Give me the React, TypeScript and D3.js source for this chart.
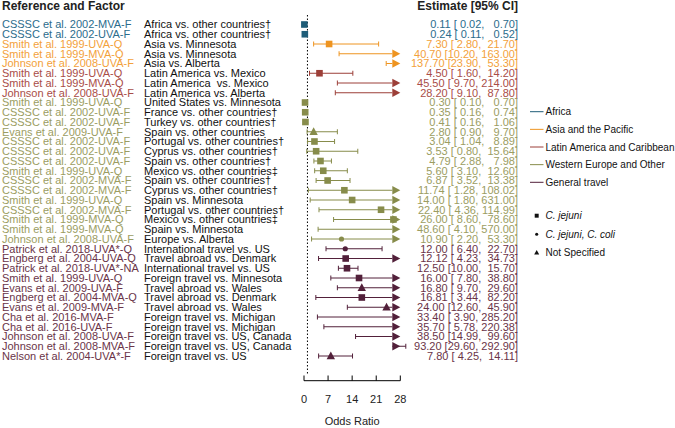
import React from "react";
import * as d3 from "d3";

const references = [
  "CSSSC et al. 2002-MVA-F", "CSSSC et al. 2002-UVA-F",
  "Smith et al. 1999-UVA-Q", "Smith et al. 1999-MVA-Q", "Johnson et al. 2008-UVA-F",
  "Smith et al. 1999-UVA-Q", "Smith et al. 1999-MVA-Q", "Johnson et al. 2008-UVA-F",
  "Smith et al. 1999-UVA-Q", "CSSSC et al. 2002-UVA-F", "CSSSC et al. 2002-UVA-F",
  "Evans et al. 2009-UVA-F", "CSSSC et al. 2002-UVA-F", "CSSSC et al. 2002-UVA-F",
  "CSSSC et al. 2002-UVA-F", "Smith et al. 1999-UVA-Q", "CSSSC et al. 2002-MVA-F",
  "CSSSC et al. 2002-MVA-F", "Smith et al. 1999-UVA-Q", "CSSSC et al. 2002-MVA-F",
  "Smith et al. 1999-MVA-Q", "Smith et al. 1999-MVA-Q", "Johnson et al. 2008-UVA-F",
  "Patrick et al. 2018-UVA*-Q", "Engberg et al. 2004-UVA-Q", "Patrick et al. 2018-UVA*-NA",
  "Smith et al. 1999-UVA-Q", "Evans et al. 2009-UVA-F", "Engberg et al. 2004-MVA-Q",
  "Evans et al. 2009-MVA-F", "Cha et al. 2016-MVA-F", "Cha et al. 2016-UVA-F",
  "Johnson et al. 2008-UVA-F", "Johnson et al. 2008-MVA-F", "Nelson et al. 2004-UVA*-F",
];

const factors = [
  "Africa vs. other countries†", "Africa vs. other countries†",
  "Asia vs. Minnesota", "Asia vs. Minnesota", "Asia vs. Alberta",
  "Latin America vs. Mexico", "Latin America  vs. Mexico", "Latin America vs. Alberta",
  "United States vs. Minnesota", "France vs. other countries†", "Turkey vs. other countries†",
  "Spain vs. other countries", "Portugal vs. other countries†", "Cyprus vs. other countries†",
  "Spain vs. other countries†", "Mexico vs. other countries‡", "Spain vs. other countries†",
  "Cyprus vs. other countries†", "Spain vs. Minnesota", "Portugal vs. other countries†",
  "Mexico vs. other countries‡", "Spain vs. Minnesota", "Europe vs. Alberta",
  "International travel vs. US", "Travel abroad vs. Denmark", "International travel vs. US",
  "Foreign travel vs. Minnesota", "Travel abroad vs. Wales", "Travel abroad vs. Denmark",
  "Travel abroad vs. Wales", "Foreign travel vs. Michigan", "Foreign travel vs. Michigan",
  "Foreign travel vs. US, Canada", "Foreign travel vs. US, Canada", "Foreign travel vs. US",
];

const groups = [
  "Africa", "Africa",
  "Asia", "Asia", "Asia",
  "Latin", "Latin", "Latin",
  "West", "West", "West", "West", "West", "West", "West", "West", "West", "West", "West", "West", "West", "West", "West",
  "Gen", "Gen", "Gen", "Gen", "Gen", "Gen", "Gen", "Gen", "Gen", "Gen", "Gen", "Gen",
];

const estimates = [
  0.11, 0.24, 7.30, 40.70, 137.70, 4.50, 45.50, 28.20, 0.30, 0.35, 0.41, 2.80, 3.04, 3.53,
  4.79, 5.60, 6.87, 11.74, 14.00, 22.40, 26.00, 48.60, 10.90, 12.00, 12.12, 12.50, 16.00,
  16.80, 16.81, 24.00, 33.40, 35.70, 38.50, 93.20, 7.80,
];
const lower = [
  0.02, 0.11, 2.80, 10.20, 23.90, 1.60, 9.70, 9.10, 0.10, 0.16, 0.16, 0.90, 1.04, 0.80,
  2.88, 3.10, 3.52, 1.28, 1.80, 4.36, 8.60, 4.10, 2.20, 6.40, 4.23, 10.00, 7.80,
  9.70, 3.44, 12.60, 3.90, 5.78, 14.99, 29.60, 4.25,
];
const upper = [
  0.70, 0.52, 21.70, 163.00, 53.30, 14.20, 214.00, 87.80, 0.70, 0.74, 1.06, 9.70, 8.89, 15.64,
  7.98, 12.60, 13.38, 108.02, 631.00, 114.99, 78.60, 570.00, 53.30, 22.70, 34.73, 15.70, 38.80,
  29.60, 82.20, 45.90, 285.20, 220.38, 99.60, 292.90, 14.11,
];
const shapes = [
  "sq", "sq", "sq", "sq", "sq", "sq", "sq", "sq", "sq", "sq", "sq", "tri", "sq", "sq",
  "sq", "sq", "sq", "sq", "sq", "sq", "sq", "sq", "circ", "circ", "sq", "sq", "sq",
  "tri", "sq", "tri", "sq", "sq", "sq", "sq", "tri",
];

const xTicks = [0, 7, 14, 21, 28];

const groupKeys = ["Africa", "Asia", "Latin", "West", "Gen"];
const groupNames = ["Africa", "Asia and the Pacific", "Latin America and Caribbean", "Western Europe and Other", "General travel"];
const markColors = ["#1f5d78", "#ee9420", "#9c3f38", "#878c4b", "#52203a"];
const textColors = ["#2b6c8c", "#f3a13a", "#a94d47", "#9b9d62", "#6a3448"];

const shapeKeys = ["sq", "circ", "tri"];
const shapeNames = ["C. jejuni", "C. jejuni, C. coli", "Not Specified"];
const shapeItalic = [true, true, false];

const FONT = "'Liberation Sans', Arial, sans-serif";

export default function App() {
  const W = 675, H = 428;
  const x = d3.scaleLinear().domain([0, 28]).range([304, 400.3]);
  const y = d3.scaleLinear().domain([0, references.length - 1]).range([24.5, 356]);
  const color = d3.scaleOrdinal<string, string>().domain(groupKeys).range(markColors);
  const tcolor = d3.scaleOrdinal<string, string>().domain(groupKeys).range(textColors);
  const xMax = 28;
  const arrowLen = 8;
  const fmt = (v: number, w: number) => v.toFixed(2).padStart(w, " ");

  const triPath = (cx: number, cy: number, s: number) =>
    `M${cx},${cy - s * 0.65}L${cx + s * 0.6},${cy + s * 0.45}L${cx - s * 0.6},${cy + s * 0.45}Z`;

  const marker = (shape: string, cx: number, cy: number, fill: string, s = 1) => {
    if (shape === "sq") return <rect x={cx - 3.3 * s} y={cy - 3.3 * s} width={6.6 * s} height={6.6 * s} fill={fill} />;
    if (shape === "circ") return <circle cx={cx} cy={cy} r={2.6 * s} fill={fill} />;
    return <path d={triPath(cx, cy, 7 * s)} fill={fill} />;
  };

  return (
    <svg width={W} height={H} style={{ position: "absolute", left: 0, top: 0, background: "#fff" }} fontFamily={FONT}>
      <text x={2} y={10} fontSize={12} fontWeight="bold" fill="#222">Reference and Factor</text>
      <text x={518} y={10} fontSize={12} fontWeight="bold" fill="#222" textAnchor="end">Estimate [95% CI]</text>

      {/* reference line at OR = 1 */}
      <line x1={x(1)} x2={x(1)} y1={15} y2={375} stroke="#000" strokeWidth={1} strokeDasharray="1.5,2" />

      {references.map((r, i) => {
        const g = groups[i];
        const c = color(g);
        const yy = y(i);
        const lo = Math.max(0, lower[i]);
        const over = upper[i] > xMax;
        const hiX = over ? x(xMax) - arrowLen : x(upper[i]);
        const showEst = estimates[i] <= xMax;
        return (
          <g key={i}>
            <text x={2} y={yy} dy="0.35em" fontSize={11} fill={tcolor(g)}>{r}</text>
            <text x={144} y={yy} dy="0.35em" fontSize={11} fill="#111" style={{ whiteSpace: "pre" }}>{factors[i]}</text>
            <text x={518} y={yy} dy="0.35em" fontSize={11} fill={tcolor(g)} textAnchor="end" style={{ whiteSpace: "pre" }}>
              {`${fmt(estimates[i], 6)} [${fmt(lower[i], 5)}, ${fmt(upper[i], 6)}]`}
            </text>
            <line x1={x(lo)} x2={hiX} y1={yy} y2={yy} stroke={c} strokeWidth={1} />
            <line x1={x(lo)} x2={x(lo)} y1={yy - 2.5} y2={yy + 2.5} stroke={c} strokeWidth={1} />
            {!over && <line x1={hiX} x2={hiX} y1={yy - 2.5} y2={yy + 2.5} stroke={c} strokeWidth={1} />}
            {over && (
              <path d={`M${x(xMax) - arrowLen},${yy - 4.3}L${x(xMax)},${yy}L${x(xMax) - arrowLen},${yy + 4.3}Z`} fill={c} />
            )}
            {showEst && marker(shapes[i], x(estimates[i]), yy, c)}
          </g>
        );
      })}

      {/* x axis */}
      <g>
        <line x1={x(0)} x2={x(28)} y1={380.7} y2={380.7} stroke="#000" strokeWidth={1} />
        {xTicks.map((t) => (
          <g key={t}>
            <line x1={x(t)} x2={x(t)} y1={375.5} y2={380.7} stroke="#000" strokeWidth={1} />
            <text x={x(t)} y={399} dy="0.35em" fontSize={11} textAnchor="middle" fill="#222">{t}</text>
          </g>
        ))}
        <text x={(x(0) + x(28)) / 2} y={421} dy="0.35em" fontSize={11} textAnchor="middle" fill="#222">Odds Ratio</text>
      </g>

      {/* group legend */}
      {groupNames.map((n, i) => {
        const yy = 111.7 + i * 17.65;
        return (
          <g key={n}>
            <line x1={530} x2={543.5} y1={yy} y2={yy} stroke={markColors[i]} strokeWidth={1} />
            <text x={545.5} y={yy} dy="0.35em" fontSize={10} fill="#111">{n}</text>
          </g>
        );
      })}

      {/* shape legend */}
      {shapeKeys.map((s, i) => {
        const yy = 215.7 + i * 18.5;
        return (
          <g key={s}>
            {marker(s, 536.7, yy, "#111", 0.6)}
            <text x={545.5} y={yy} dy="0.35em" fontSize={10} fill="#111" fontStyle={shapeItalic[i] ? "italic" : "normal"}>{shapeNames[i]}</text>
          </g>
        );
      })}
    </svg>
  );
}
